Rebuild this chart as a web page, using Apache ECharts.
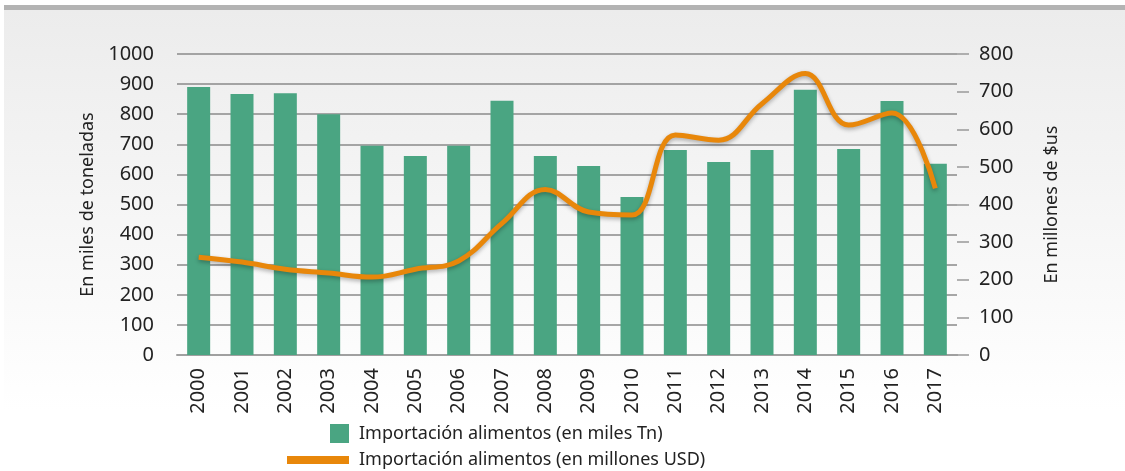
<!DOCTYPE html>
<html>
<head>
<meta charset="utf-8">
<script src="https://cdn.jsdelivr.net/npm/echarts@6/dist/echarts.min.js"></script>
<style>
  html, body { margin: 0; padding: 0; background: #fff; }
  #chart { width: 1125px; height: 471px; }
</style>
</head>
<body>
<div id="chart"></div>
<script>
const years = ['2000', '2001', '2002', '2003', '2004', '2005', '2006', '2007', '2008',
  '2009', '2010', '2011', '2012', '2013', '2014', '2015', '2016', '2017']
// miles de toneladas (eje izquierdo)
const tonnes = [890, 867, 870, 800, 695, 661, 695, 845, 661, 628, 525, 681, 641, 681, 881, 684, 844, 635]
// millones USD (eje derecho)
const usd = [260, 247, 228, 218, 207, 228, 250, 350, 440, 380, 372, 585, 571, 668, 748, 611, 643, 443]

const barName = 'Importación alimentos (en miles Tn)'
const lineName = 'Importación alimentos (en millones USD)'

const font = 'Noto Sans'
const chart = echarts.init(document.getElementById('chart'))

chart.setOption({
  animation: false,
  textStyle: { fontFamily: font },
  graphic: [
    {
      type: 'rect', z: -10,
      shape: { x: 4, y: 10, width: 1121, height: 400 },
      style: {
        fill: new echarts.graphic.LinearGradient(0, 0, 0, 1, [
          { offset: 0, color: '#ececec' },
          { offset: 1, color: '#ffffff' }
        ])
      }
    },
    {
      type: 'rect', z: -9,
      shape: { x: 4, y: 5, width: 1121, height: 5 },
      style: { fill: '#b3b3b3' }
    }
  ],
  legend: [
    {
      data: [barName],
      left: 330, top: 424, padding: 0,
      itemWidth: 19, itemHeight: 19,
      icon: 'rect',
      textStyle: { fontSize: 18, color: '#222', fontFamily: font, padding: [0, 0, 0, 5] }
    },
    {
      data: [{ name: lineName, icon: 'rect', itemStyle: { color: '#e8870a' } }],
      left: 287, top: 451, padding: 0,
      itemWidth: 62, itemHeight: 8,
      textStyle: { fontSize: 18, color: '#222', fontFamily: font, padding: [0, 0, 0, 5] }
    }
  ],
  grid: { left: 177, right: 168, top: 54, bottom: 116 },
  xAxis: {
    type: 'category',
    data: years,
    axisLine: { lineStyle: { color: '#a0a0a0', width: 2 } },
    axisTick: { show: false },
    axisLabel: { rotate: 90, fontSize: 20, color: '#222', margin: 13 }
  },
  yAxis: [
    {
      type: 'value', min: 0, max: 1000, interval: 100,
      name: 'En miles de toneladas',
      nameLocation: 'middle', nameGap: 74, nameRotate: 90,
      nameTextStyle: { fontSize: 18, color: '#222' },
      axisLine: { show: false },
      axisTick: { show: false },
      axisLabel: { fontSize: 20, color: '#222', margin: 23, formatter: v => String(v) },
      splitLine: { lineStyle: { color: '#8a8a8a', width: 1.5 } }
    },
    {
      type: 'value', min: 0, max: 800, interval: 100,
      position: 'right',
      name: 'En millones de $us',
      nameLocation: 'middle', nameGap: 86, nameRotate: 90,
      nameTextStyle: { fontSize: 18, color: '#222' },
      axisLine: { show: false },
      axisTick: { show: true, length: 12, lineStyle: { color: '#999', width: 1.5 } },
      axisLabel: { fontSize: 20, color: '#222', margin: 22, formatter: v => String(v) },
      splitLine: { show: false }
    }
  ],
  series: [
    {
      name: barName,
      type: 'bar',
      data: tonnes,
      barWidth: 23,
      itemStyle: { color: '#4aa582' }
    },
    {
      name: lineName,
      type: 'line',
      yAxisIndex: 1,
      data: usd,
      smooth: 0.4,
      symbol: 'none',
      itemStyle: { color: '#e8870a' },
      lineStyle: {
        color: '#e8870a', width: 5,
        shadowColor: 'rgba(0,0,0,0.3)', shadowBlur: 4, shadowOffsetY: 2
      }
    }
  ]
})
</script>
</body>
</html>
